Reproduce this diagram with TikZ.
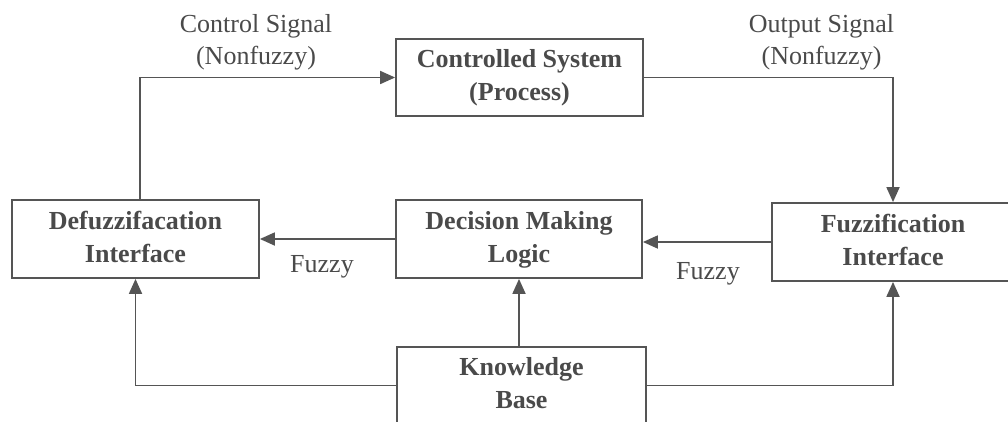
\documentclass[tikz,border=0pt]{standalone}
\usepackage{fontspec}
\setmainfont{Liberation Serif}
\usetikzlibrary{arrows.meta,calc}
\definecolor{ink}{HTML}{4A4A4A}
\definecolor{wire}{HTML}{555555}
\tikzset{
  block/.style={draw=wire, line width=1.8pt, rectangle, inner sep=0pt,
    align=center, text=ink, font=\bfseries\fontsize{26}{33}\selectfont},
  lbl/.style={align=center, text=ink, inner sep=0pt,
    font=\fontsize{26}{32}\selectfont},
  arr/.style={draw=wire, line width=1.8pt,
    -{Triangle[length=15pt,width=13pt]}}
}
\begin{document}
\begin{tikzpicture}[x=1pt,y=-1pt]
\useasboundingbox (0,0) rectangle (1008,422);

% blocks (struts keep the two text lines at the same place in every box)
\node[block, minimum width=247pt, minimum height=77pt] (sys) at (519.5,77.5)
  {\strut Controlled System\\(Process)\strut};
\node[block, minimum width=247pt, minimum height=78pt] (defz) at (135.5,239)
  {\strut Defuzzifacation\\Interface\strut};
\node[block, minimum width=246pt, minimum height=78pt] (dml) at (519,239)
  {\strut Decision Making\\Logic\strut};
\node[block, minimum width=242pt, minimum height=78pt] (fuz) at (893,242)
  {\strut Fuzzification\\Interface\strut};
\node[block, minimum width=249pt, minimum height=77pt] (kb) at (521.5,385.5)
  {\strut Knowledge\\Base\strut};

% signal labels
\node[lbl] (csig) at (256,42) {Control Signal\\(Nonfuzzy)};
\node[lbl] (osig) at (821.5,42) {Output Signal\\(Nonfuzzy)};
\node[lbl] (fz1) at (322,267) {Fuzzy};
\node[lbl] (fz2) at (708,274) {Fuzzy};

% connectors
\coordinate (cup) at ($(defz.north)+(4.5,0)$);
\draw[arr] (cup) |- (sys.west);
\draw[arr] (sys.east) -| (fuz.north);
\draw[arr] (fuz.west) -- (fuz.west -| dml.east);
\draw[arr] (dml.west) -- (defz.east);
\draw[arr] (kb.north -| dml.south) -- (dml.south);
\draw[arr] (kb.west) -| (defz.south);
\draw[arr] (kb.east) -| (fuz.south);
\end{tikzpicture}
\end{document}
